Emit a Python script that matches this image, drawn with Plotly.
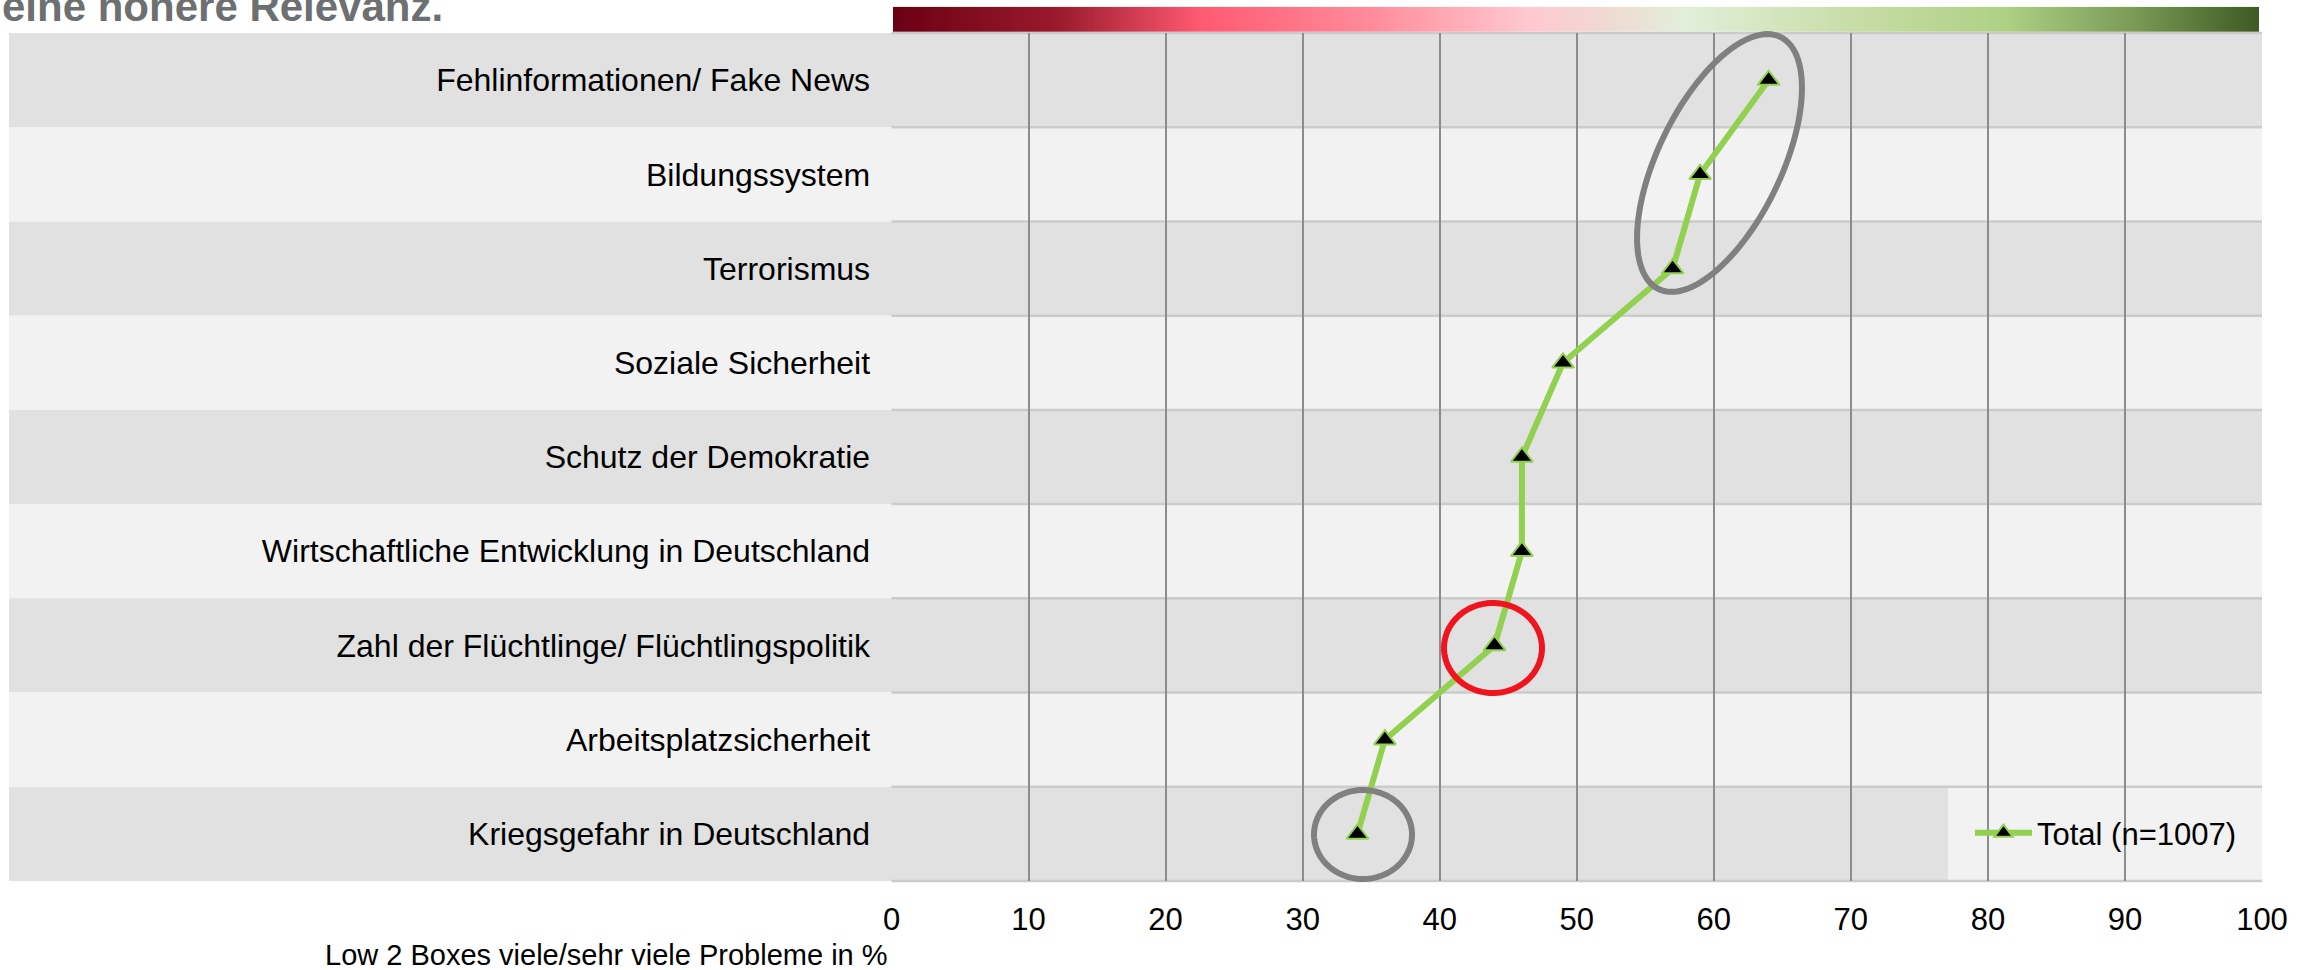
import numpy as np
import plotly.graph_objects as go

# ---------------- data ----------------
categories = [
    "Fehlinformationen/ Fake News",
    "Bildungssystem",
    "Terrorismus",
    "Soziale Sicherheit",
    "Schutz der Demokratie",
    "Wirtschaftliche Entwicklung in Deutschland",
    "Zahl der Flüchtlinge/ Flüchtlingspolitik",
    "Arbeitsplatzsicherheit",
    "Kriegsgefahr in Deutschland",
]
total_values = [64, 59, 57, 49, 46, 46, 44, 36, 34]
x_ticks = [0, 10, 20, 30, 40, 50, 60, 70, 80, 90, 100]
series_name = "Total (n=1007)"
axis_title = "Low 2 Boxes viele/sehr viele Probleme in %"
headline = "eine höhere Relevanz."

# decorative colour bar above the chart (red -> green)
gradient_stops = [
    [0.0, "#6B0014"], [0.12, "#9A1A2C"], [0.225, "#FF5A72"], [0.35, "#FF8C9B"],
    [0.465, "#FFC8CF"], [0.53, "#EDDCD2"], [0.578, "#E2EFDA"], [0.71, "#C6DCA5"],
    [0.815, "#AED184"], [0.91, "#7A9A55"], [1.0, "#3F5A24"],
]
gradient_cells = 400

# ---------------- layout geometry (pixels) ----------------
W, H = 2315, 970
FONT = "Arial, Liberation Sans, sans-serif"


def px_x(p):
    return p / W


def px_y(p):
    return 1 - p / H


X0, X1 = 891.5, 2262.0      # plot area left/right
Y0, Y1 = 33.0, 881.0        # plot area top/bottom
n_rows = len(categories)
row_h = (Y1 - Y0) / n_rows

fig = go.Figure()

# colour gradient bar
fig.add_trace(go.Heatmap(
    z=[list(range(gradient_cells))],
    colorscale=gradient_stops, showscale=False, hoverinfo="skip",
    xaxis="x2", yaxis="y2",
))

# main line
fig.add_trace(go.Scatter(
    x=total_values, y=categories, mode="lines+markers", name=series_name,
    line=dict(color="#92D050", width=6),
    marker=dict(symbol="triangle-up", size=19, color="black",
                line=dict(color="#92D050", width=2)),
    showlegend=True,
))

shapes = []
# alternating row bands (extend into label area)
for i in range(n_rows):
    top = Y0 + i * row_h
    shapes.append(dict(
        type="rect", xref="paper", yref="paper",
        x0=px_x(9), x1=px_x(X1), y0=px_y(top + row_h), y1=px_y(top),
        fillcolor="#E0E1E0" if i % 2 == 0 else "#F2F2F2",
        line=dict(width=0), layer="below",
    ))

# legend background box
shapes.append(dict(
    type="rect", xref="paper", yref="paper",
    x0=px_x(1948), x1=px_x(X1), y0=px_y(Y1), y1=px_y(Y0 + (n_rows - 1) * row_h),
    fillcolor="#F2F2F2", line=dict(width=0), layer="between",
))

# row separators inside plot area
for i in range(n_rows + 1):
    yy = Y0 + i * row_h
    shapes.append(dict(
        type="line", xref="paper", yref="paper",
        x0=px_x(X0), x1=px_x(X1), y0=px_y(yy), y1=px_y(yy),
        line=dict(color="#CBCBCB", width=2.5), layer="between",
    ))


def ellipse_path(cx, cy, a, b, theta_deg, n=120):
    t = np.linspace(0, 2 * np.pi, n)
    th = np.deg2rad(theta_deg)
    xs = cx + a * np.cos(t) * np.cos(th) - b * np.sin(t) * np.sin(th)
    ys = cy - (a * np.cos(t) * np.sin(th) + b * np.sin(t) * np.cos(th))
    pts = [f"{px_x(x):.6f},{px_y(y):.6f}" for x, y in zip(xs, ys)]
    return "M" + " L".join(pts) + " Z"


# highlight ellipses
shapes.append(dict(type="path", xref="paper", yref="paper",
                   path=ellipse_path(1719.5, 163, 140, 61.7, 64.2),
                   line=dict(color="#808080", width=6), layer="above"))
shapes.append(dict(type="path", xref="paper", yref="paper",
                   path=ellipse_path(1493, 648, 49, 45, 0),
                   line=dict(color="#F0141E", width=6), layer="above"))
shapes.append(dict(type="path", xref="paper", yref="paper",
                   path=ellipse_path(1363, 834.5, 49, 44.5, 0),
                   line=dict(color="#808080", width=6), layer="above"))

annotations = [
    dict(text=f"<b>{headline}</b>", xref="paper", yref="paper",
         x=0, y=px_y(6.5), xanchor="left", yanchor="middle", showarrow=False,
         font=dict(family=FONT, size=42, color="#6D6F71")),
    dict(text=axis_title, xref="paper", yref="paper",
         x=px_x(890), y=px_y(955), xanchor="right", yanchor="middle", showarrow=False,
         font=dict(family=FONT, size=29, color="black")),
]

fig.update_layout(
    width=W, height=H, autosize=False,
    margin=dict(l=0, r=0, t=0, b=0, pad=0, autoexpand=False),
    paper_bgcolor="white", plot_bgcolor="rgba(0,0,0,0)",
    font=dict(family=FONT, size=31, color="black"),
    shapes=shapes, annotations=annotations,
    xaxis=dict(domain=[px_x(X0), px_x(X1)], range=[0, 100], tickvals=x_ticks,
               showgrid=True, gridcolor="#8C8C8C", gridwidth=2, zeroline=False,
               showline=False, ticks="outside", ticklen=11, automargin=False,
               tickcolor="rgba(0,0,0,0)", tickfont=dict(size=31), fixedrange=True),
    yaxis=dict(domain=[px_y(Y1), px_y(Y0)], type="category",
               categoryorder="array", categoryarray=categories,
               range=[n_rows - 0.5, -0.5], showgrid=False, zeroline=False,
               ticks="outside", ticklen=14, tickcolor="rgba(0,0,0,0)",
               automargin=False, tickfont=dict(size=32), fixedrange=True),
    xaxis2=dict(domain=[px_x(893), px_x(2259)], anchor="y2", automargin=False,
                range=[-0.5, gradient_cells - 0.5], visible=False),
    yaxis2=dict(domain=[px_y(32), px_y(6.7)], anchor="x2", automargin=False,
                range=[-0.5, 0.5], visible=False),
    legend=dict(x=px_x(1970), y=px_y(833), xanchor="left", yanchor="middle",
                bgcolor="rgba(0,0,0,0)", font=dict(size=31, color="black"),
                itemwidth=57),
    showlegend=True,
)

fig.write_html(
    "out.html",
    config={"responsive": False, "displayModeBar": False},
    post_script=(
        "document.documentElement.style.margin='0';"
        "document.body.style.margin='0';"
        "document.body.style.overflow='hidden';"
        "document.documentElement.style.overflow='hidden';"
    ),
)
